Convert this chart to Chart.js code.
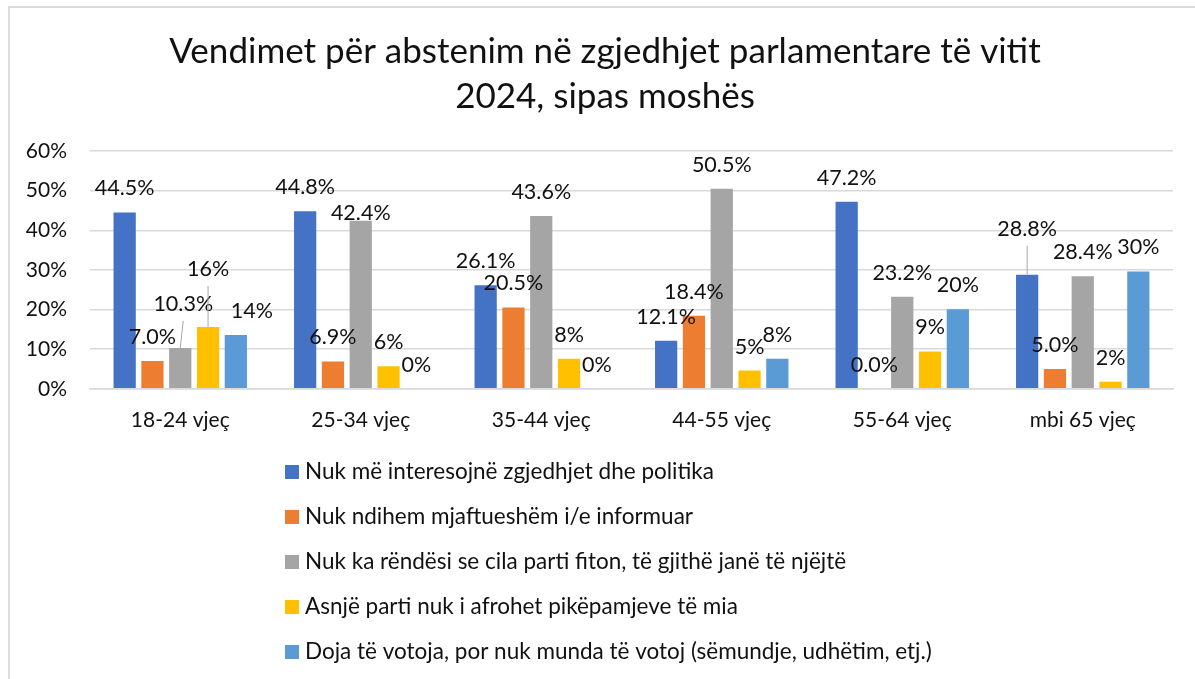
<!DOCTYPE html>
<html>
<head>
<meta charset="utf-8">
<script src="https://cdn.jsdelivr.net/npm/chart.js@4/dist/chart.umd.min.js"></script>
<style>
  html, body { margin: 0; padding: 0; background: #fff; overflow: hidden; }
  .frame { position: absolute; left: 8px; top: 6px; width: 1300px; height: 800px; border: 2px solid #dcdcdc; box-sizing: border-box; }
  canvas { position: absolute; left: 0; top: 0; }
</style>
</head>
<body>
<div class="frame"></div>
<canvas id="chart" width="1195" height="679"></canvas>
<script>
const titleLines = ["Vendimet për abstenim në zgjedhjet parlamentare të vitit", "2024, sipas moshës"];
const ageGroups = ["18-24 vjeç", "25-34 vjeç", "35-44 vjeç", "44-55 vjeç", "55-64 vjeç", "mbi 65 vjeç"];
const seriesNames = [
  "Nuk më interesojnë zgjedhjet dhe politika",
  "Nuk ndihem mjaftueshëm i/e informuar",
  "Nuk ka rëndësi se cila parti fiton, të gjithë janë të njëjtë",
  "Asnjë parti nuk i afrohet pikëpamjeve të mia",
  "Doja të votoja, por nuk munda të votoj (sëmundje, udhëtim, etj.)"
];
const notInterested = [44.5, 44.8, 26.1, 12.1, 47.2, 28.8];
const notInformed = [7.0, 6.9, 20.5, 18.4, 0.0, 5.0];
const doesNotMatter = [10.3, 42.4, 43.6, 50.5, 23.2, 28.4];
const noPartyClose = [15.6, 5.7, 7.6, 4.6, 9.4, 1.8];
const couldNotVote = [13.6, 0, 0, 7.6, 20.1, 29.6];
const labelDecimals = [1, 1, 1, 0, 0];
const yTicks = [0, 10, 20, 30, 40, 50, 60];

const seriesColors = ["#4472C4", "#ED7D31", "#A5A5A5", "#FFC000", "#5B9BD5"];

// labels Excel moved by hand: "series,index" -> shift from the default spot
const labelShift = {
  "2,0": { dx: 3, dy: -20, leader: true },
  "3,0": { dx: 0, dy: -34, leader: true },
  "4,0": { dx: 16, dy: 0 },
  "2,1": { dx: 0, dy: 16 },
  "0,5": { dx: 0, dy: -22, leader: true }
};

const FONT = "Lato, 'Open Sans', sans-serif";
const TEXT = "#111";

const titleBlock = {
  id: "titleBlock",
  afterDraw(chart) {
    const ctx = chart.ctx;
    ctx.save();
    ctx.font = `35px ${FONT}`;
    ctx.fillStyle = TEXT;
    ctx.textAlign = "center";
    ctx.textBaseline = "middle";
    titleLines.forEach((line, i) => ctx.fillText(line, 605, 52 + i * 45));
    ctx.restore();
  }
};

const barLabels = {
  id: "barLabels",
  afterDatasetsDraw(chart) {
    const ctx = chart.ctx;
    ctx.save();
    ctx.font = `21.5px ${FONT}`;
    ctx.fillStyle = TEXT;
    ctx.textAlign = "center";
    ctx.textBaseline = "middle";
    chart.data.datasets.forEach((ds, i) => {
      chart.getDatasetMeta(i).data.forEach((bar, j) => {
        const shift = labelShift[`${i},${j}`] || { dx: 0, dy: 0 };
        const x = bar.x + shift.dx;
        const y = bar.y - 24 + shift.dy;
        if (shift.leader) {
          ctx.strokeStyle = "#a6a6a6";
          ctx.lineWidth = 1;
          ctx.beginPath();
          ctx.moveTo(bar.x, bar.y);
          ctx.lineTo(x, y + 17);
          ctx.stroke();
        }
        ctx.fillText(ds.data[j].toFixed(labelDecimals[i]) + "%", x, y);
      });
    });
    ctx.restore();
  }
};

const stackedLegend = {
  id: "stackedLegend",
  afterDraw(chart) {
    const ctx = chart.ctx;
    ctx.save();
    ctx.font = `22.5px ${FONT}`;
    ctx.textBaseline = "middle";
    ctx.textAlign = "left";
    chart.data.datasets.forEach((ds, i) => {
      const y = 472 + i * 45;
      ctx.fillStyle = ds.backgroundColor;
      ctx.fillRect(285, y - 7, 14, 14);
      ctx.fillStyle = TEXT;
      ctx.fillText(ds.label, 305, y);
    });
    ctx.restore();
  }
};

const seriesData = [notInterested, notInformed, doesNotMatter, noPartyClose, couldNotVote];

new Chart(document.getElementById("chart"), {
  type: "bar",
  data: {
    labels: ageGroups,
    datasets: seriesData.map((values, i) => ({
      label: seriesNames[i],
      data: values,
      backgroundColor: seriesColors[i],
      categoryPercentage: 0.77,
      barPercentage: 0.8
    }))
  },
  options: {
    responsive: false,
    animation: false,
    layout: { padding: { left: 8, right: 22, top: 151, bottom: 235 } },
    plugins: {
      legend: { display: false },
      tooltip: { enabled: false },
      title: { display: false }
    },
    scales: {
      x: {
        grid: { display: false },
        border: { display: true, color: "#d9d9d9", width: 1.5 },
        ticks: { color: TEXT, font: { family: FONT, size: 21 }, padding: 11 }
      },
      y: {
        min: 0,
        max: 60,
        afterFit: scale => { scale.width = 82; },
        grid: { color: "#d9d9d9", lineWidth: 1.5, drawTicks: false },
        border: { display: false },
        ticks: {
          color: TEXT,
          font: { family: FONT, size: 21 },
          padding: 23,
          stepSize: 10,
          callback: (value, index) => yTicks[index] + "%"
        }
      }
    }
  },
  plugins: [titleBlock, barLabels, stackedLegend]
});
</script>
</body>
</html>
